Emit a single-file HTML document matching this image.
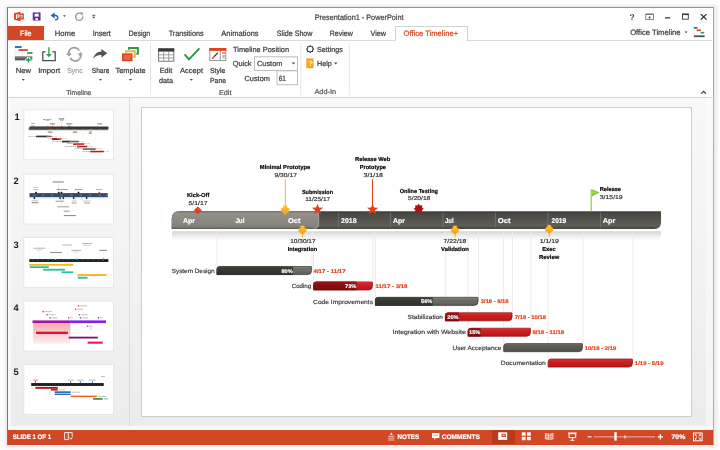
<!DOCTYPE html>
<html>
<head>
<meta charset="utf-8">
<title>PowerPoint - Office Timeline</title>
<style>
html,body{margin:0;padding:0;}
body{width:720px;height:450px;overflow:hidden;background:#fdfdfd;font-family:"Liberation Sans",sans-serif;position:relative;}
.abs{position:absolute;}
#win{position:absolute;left:7px;top:7px;width:705px;height:436px;border:1px solid #e07a5c;border-left-color:#d9532f;border-right-color:#e39580;border-bottom-color:#d24726;background:#fff;box-sizing:content-box;box-shadow:0 0 2.5px 2.5px rgba(0,0,0,0.065);}
.thumb{position:absolute;left:24px;width:89px;height:50px;background:#fff;border:1px solid #e2e2e2;box-sizing:border-box;overflow:hidden;}
svg{will-change:transform;}
svg text{white-space:pre;text-rendering:geometricPrecision;}
</style>
</head>
<body>
<div id="win"></div>
<!-- file tab -->
<div class="abs" style="left:8px;top:26px;width:36px;height:14.5px;background:#d24726;"></div>
<!-- tab strip line -->
<div class="abs" style="left:8px;top:40px;width:704px;height:1px;background:#dadada;"></div>
<!-- active tab -->
<div class="abs" style="left:395px;top:25.5px;width:72.5px;height:15.5px;background:#fff;border:1px solid #d2d2d2;border-bottom:none;box-sizing:border-box;"></div>
<!-- ribbon bottom line -->
<div class="abs" style="left:8px;top:96.7px;width:704px;height:1px;background:#d6d6d6;"></div>
<!-- workspace -->
<div id="work" class="abs" style="left:8px;top:97.7px;width:705px;height:332.3px;background:linear-gradient(to bottom,#f8f8f8 0%,#f3f3f3 45%,#ececec 100%);"></div>
<div class="abs" style="left:8px;top:97.7px;width:3px;height:332.3px;background:rgba(255,255,255,0.55);"></div>
<div class="abs" style="left:706px;top:97.7px;width:6.5px;height:328px;background:rgba(255,255,255,0.45);"></div>
<div class="abs" style="left:129px;top:98px;width:1px;height:332px;background:#dcdcdc;"></div>
<div class="abs" style="left:8px;top:425.5px;width:705px;height:4.5px;background:#f7f8fa;"></div>
<!-- slide -->
<div id="slide" class="abs" style="left:141px;top:107px;width:551px;height:309.5px;background:#fff;border:1px solid #cdcdcd;box-sizing:border-box;"></div>
<!-- status bar -->
<div id="status" class="abs" style="left:8px;top:430px;width:705px;height:13.5px;background:#d24726;"></div>
<div class="abs" style="left:491.5px;top:430px;width:23px;height:13.5px;background:#b83b1e;"></div>
<svg class="abs" style="left:0;top:0;" width="720" height="450" viewBox="0 0 720 450">
<defs><linearGradient id="pk" x1="0" y1="0" x2="0" y2="1"><stop offset="0" stop-color="#f5aaaa"/><stop offset="1" stop-color="#fdeeee"/></linearGradient>
<clipPath id="tc0"><rect x="24.2" y="110.2" width="89" height="49.2"/></clipPath>
<clipPath id="tc1"><rect x="24.2" y="174.5" width="89" height="49.2"/></clipPath>
<clipPath id="tc2"><rect x="24.2" y="237.70000000000002" width="89" height="49.2"/></clipPath>
<clipPath id="tc3"><rect x="24.2" y="301.5" width="89" height="49.2"/></clipPath>
<clipPath id="tc4"><rect x="24.2" y="364.79999999999995" width="89" height="49.2"/></clipPath>
</defs>
<rect x="23.8" y="109.8" width="89.8" height="49.9" fill="#fff" stroke="#e3e3e3" stroke-width="0.8"/>
<rect x="23.8" y="174.1" width="89.8" height="49.9" fill="#fff" stroke="#e3e3e3" stroke-width="0.8"/>
<rect x="23.8" y="237.3" width="89.8" height="49.9" fill="#fff" stroke="#e3e3e3" stroke-width="0.8"/>
<rect x="23.8" y="301.1" width="89.8" height="49.9" fill="#fff" stroke="#e3e3e3" stroke-width="0.8"/>
<rect x="23.8" y="364.4" width="89.8" height="49.9" fill="#fff" stroke="#e3e3e3" stroke-width="0.8"/>
<g clip-path="url(#tc0)"><use href="#sc" transform="translate(0.820,92.362) scale(0.16298)"/><rect x="29.6" y="126.6" width="78.2" height="2.5" fill="#33322e" opacity="0.8"/></g>
<g clip-path="url(#tc1)">
<rect x="29.50" y="193.10" width="78.30" height="4.10" fill="#36496b"/>
<rect x="29.50" y="197.40" width="78.30" height="1.20" fill="#c9d5e6" opacity="0.55"/>
<rect x="33.00" y="194.80" width="2.40" height="0.70" fill="#dfe6f0" opacity="0.5"/>
<rect x="42.00" y="194.80" width="2.40" height="0.70" fill="#dfe6f0" opacity="0.5"/>
<rect x="51.00" y="194.80" width="2.40" height="0.70" fill="#dfe6f0" opacity="0.5"/>
<rect x="60.30" y="194.80" width="2.40" height="0.70" fill="#dfe6f0" opacity="0.5"/>
<rect x="70.00" y="194.80" width="2.40" height="0.70" fill="#dfe6f0" opacity="0.5"/>
<rect x="79.50" y="194.80" width="2.40" height="0.70" fill="#dfe6f0" opacity="0.5"/>
<rect x="89.00" y="194.80" width="2.40" height="0.70" fill="#dfe6f0" opacity="0.5"/>
<rect x="98.50" y="194.80" width="2.40" height="0.70" fill="#dfe6f0" opacity="0.5"/>
<rect x="105.50" y="194.80" width="2.40" height="0.70" fill="#dfe6f0" opacity="0.5"/>
<path d="M36,191.5 L37.1,192.6 L36,193.7 L34.9,192.6 Z" fill="#111"/>
<path d="M58.8,191.5 L59.9,192.6 L58.8,193.7 L57.699999999999996,192.6 Z" fill="#111"/>
<path d="M61.5,191.5 L62.6,192.6 L61.5,193.7 L60.4,192.6 Z" fill="#111"/>
<path d="M78.5,191.5 L79.6,192.6 L78.5,193.7 L77.4,192.6 Z" fill="#111"/>
<path d="M99.3,191.5 L100.39999999999999,192.6 L99.3,193.7 L98.2,192.6 Z" fill="#e23c1a"/>
<path d="M34.3,197.0 L35.4,198.1 L34.3,199.2 L33.199999999999996,198.1 Z" fill="#111"/>
<path d="M60.1,197.0 L61.2,198.1 L60.1,199.2 L59.0,198.1 Z" fill="#111"/>
<path d="M63.3,197.0 L64.39999999999999,198.1 L63.3,199.2 L62.199999999999996,198.1 Z" fill="#111"/>
<path d="M73.7,197.0 L74.8,198.1 L73.7,199.2 L72.60000000000001,198.1 Z" fill="#111"/>
<path d="M86.7,197.0 L87.8,198.1 L86.7,199.2 L85.60000000000001,198.1 Z" fill="#111"/>
<rect x="52.60" y="181.50" width="11.20" height="1.00" fill="#222" opacity="0.6000000000000001"/>
<rect x="58.30" y="184.00" width="0.50" height="6.50" fill="#999" opacity="0.5"/>
<rect x="33.00" y="186.90" width="5.40" height="1.00" fill="#666" opacity="0.36000000000000004"/>
<rect x="33.00" y="189.10" width="5.40" height="1.00" fill="#555" opacity="0.4"/>
<rect x="56.50" y="189.00" width="11.10" height="1.00" fill="#333" opacity="0.48"/>
<rect x="74.70" y="189.00" width="7.90" height="1.00" fill="#333" opacity="0.48"/>
<rect x="96.20" y="189.00" width="6.10" height="1.00" fill="#d44" opacity="0.5599999999999999"/>
<rect x="31.60" y="200.20" width="6.80" height="1.00" fill="#666" opacity="0.36000000000000004"/>
<rect x="31.60" y="202.20" width="6.80" height="1.00" fill="#222" opacity="0.5599999999999999"/>
<rect x="55.60" y="200.70" width="8.60" height="1.00" fill="#333" opacity="0.48"/>
<rect x="71.70" y="200.50" width="4.80" height="1.00" fill="#666" opacity="0.36000000000000004"/>
<rect x="71.70" y="202.50" width="4.80" height="1.00" fill="#333" opacity="0.48"/>
<rect x="82.90" y="200.50" width="7.80" height="1.00" fill="#666" opacity="0.36000000000000004"/>
<rect x="84.00" y="202.50" width="6.00" height="1.00" fill="#333" opacity="0.48"/>
<rect x="61.50" y="199.00" width="0.50" height="6.50" fill="#aaa" opacity="0.5"/>
<rect x="57.40" y="206.30" width="11.60" height="1.00" fill="#333" opacity="0.48"/>
<rect x="63.80" y="210.70" width="5.90" height="1.00" fill="#333" opacity="0.48"/>
<rect x="63.80" y="215.10" width="12.00" height="1.00" fill="#222" opacity="0.5599999999999999"/>
</g>
<g clip-path="url(#tc2)">
<rect x="39.00" y="247.00" width="0.50" height="12.00" fill="#ccc" opacity="0.3"/>
<rect x="67.50" y="247.00" width="0.50" height="12.00" fill="#ccc" opacity="0.3"/>
<rect x="76.50" y="247.00" width="0.50" height="12.00" fill="#ccc" opacity="0.3"/>
<rect x="86.50" y="247.00" width="0.50" height="12.00" fill="#ccc" opacity="0.3"/>
<rect x="103.30" y="247.00" width="0.50" height="12.00" fill="#ccc" opacity="0.3"/>
<rect x="29.30" y="259.10" width="79.10" height="2.90" fill="#16242b"/>
<rect x="32.00" y="260.20" width="2.00" height="0.70" fill="#8aa" opacity="0.35"/>
<rect x="37.00" y="260.20" width="2.00" height="0.70" fill="#8aa" opacity="0.35"/>
<rect x="42.00" y="260.20" width="2.00" height="0.70" fill="#8aa" opacity="0.35"/>
<rect x="47.00" y="260.20" width="2.00" height="0.70" fill="#8aa" opacity="0.35"/>
<rect x="52.00" y="260.20" width="2.00" height="0.70" fill="#8aa" opacity="0.35"/>
<rect x="57.00" y="260.20" width="2.00" height="0.70" fill="#8aa" opacity="0.35"/>
<rect x="62.00" y="260.20" width="2.00" height="0.70" fill="#8aa" opacity="0.35"/>
<rect x="67.00" y="260.20" width="2.00" height="0.70" fill="#8aa" opacity="0.35"/>
<rect x="72.00" y="260.20" width="2.00" height="0.70" fill="#8aa" opacity="0.35"/>
<rect x="77.00" y="260.20" width="2.00" height="0.70" fill="#8aa" opacity="0.35"/>
<rect x="82.00" y="260.20" width="2.00" height="0.70" fill="#8aa" opacity="0.35"/>
<rect x="87.00" y="260.20" width="2.00" height="0.70" fill="#8aa" opacity="0.35"/>
<rect x="92.00" y="260.20" width="2.00" height="0.70" fill="#8aa" opacity="0.35"/>
<rect x="97.00" y="260.20" width="2.00" height="0.70" fill="#8aa" opacity="0.35"/>
<rect x="102.00" y="260.20" width="2.00" height="0.70" fill="#8aa" opacity="0.35"/>
<rect x="55.00" y="258.60" width="1.20" height="1.20" fill="#f2d21c"/>
<rect x="75.90" y="258.60" width="1.20" height="1.20" fill="#35b6e8"/>
<rect x="102.70" y="258.40" width="1.20" height="1.40" fill="#e23c1a"/>
<rect x="29.30" y="263.90" width="44.00" height="1.80" fill="#fbb415"/>
<rect x="29.80" y="266.30" width="19.00" height="1.70" fill="#14c4a5"/>
<rect x="43.10" y="268.80" width="21.80" height="1.80" fill="#14c4a5"/>
<rect x="61.50" y="271.40" width="11.80" height="1.70" fill="#14c4a5"/>
<rect x="77.40" y="274.10" width="29.00" height="1.90" fill="#fbb415"/>
<rect x="77.80" y="276.80" width="9.80" height="1.80" fill="#14c4a5"/>
<rect x="33.20" y="247.70" width="12.00" height="1.00" fill="#444" opacity="0.4"/>
<rect x="36.00" y="249.50" width="6.00" height="1.00" fill="#666" opacity="0.27999999999999997"/>
<rect x="50.20" y="252.00" width="11.70" height="1.00" fill="#222" opacity="0.52"/>
<rect x="62.40" y="244.50" width="9.70" height="1.00" fill="#444" opacity="0.4"/>
<rect x="71.40" y="249.90" width="9.80" height="1.00" fill="#444" opacity="0.4"/>
<rect x="73.00" y="251.50" width="6.00" height="1.00" fill="#777" opacity="0.24"/>
<rect x="81.90" y="243.10" width="10.20" height="1.00" fill="#444" opacity="0.4"/>
<rect x="83.50" y="244.90" width="7.00" height="1.00" fill="#666" opacity="0.27999999999999997"/>
<rect x="99.30" y="249.90" width="7.70" height="1.00" fill="#222" opacity="0.52"/>
</g>
<g clip-path="url(#tc3)">
<rect x="33.20" y="323.10" width="36.90" height="20.60" fill="url(#pk)"/>
<rect x="32.50" y="320.40" width="37.60" height="2.70" fill="#a414a4"/>
<rect x="70.10" y="320.40" width="35.90" height="2.70" fill="#8a22e6"/>
<rect x="36.00" y="331.70" width="31.90" height="2.30" fill="#e00d3c"/>
<rect x="68.70" y="336.70" width="29.10" height="1.80" fill="#84106a"/>
<rect x="87.60" y="341.60" width="15.10" height="2.10" fill="#ee1466"/>
<rect x="42.40" y="310.90" width="1.40" height="1.40" fill="#f0305a"/>
<rect x="44.70" y="311.10" width="7.00" height="1.00" fill="#555" opacity="0.36000000000000004"/>
<rect x="46.50" y="314.00" width="1.40" height="1.40" fill="#f0305a"/>
<rect x="48.80" y="314.20" width="7.00" height="1.00" fill="#555" opacity="0.36000000000000004"/>
<rect x="49.20" y="317.10" width="1.40" height="1.40" fill="#f0305a"/>
<rect x="51.50" y="317.30" width="6.00" height="1.00" fill="#555" opacity="0.36000000000000004"/>
<rect x="68.00" y="317.10" width="1.40" height="1.40" fill="#e23a9a"/>
<rect x="70.30" y="317.30" width="2.50" height="1.00" fill="#555" opacity="0.36000000000000004"/>
<rect x="77.80" y="305.10" width="1.40" height="1.40" fill="#f0305a"/>
<rect x="80.10" y="305.30" width="7.00" height="1.00" fill="#555" opacity="0.36000000000000004"/>
<rect x="74.80" y="308.50" width="1.40" height="1.40" fill="#f0305a"/>
<rect x="77.10" y="308.70" width="6.00" height="1.00" fill="#555" opacity="0.36000000000000004"/>
<rect x="78.80" y="314.00" width="1.40" height="1.40" fill="#f0305a"/>
<rect x="81.10" y="314.20" width="6.50" height="1.00" fill="#555" opacity="0.36000000000000004"/>
<rect x="79.80" y="317.10" width="1.40" height="1.40" fill="#9a2ae0"/>
<rect x="82.10" y="317.30" width="6.00" height="1.00" fill="#555" opacity="0.36000000000000004"/>
<rect x="97.80" y="317.10" width="1.40" height="1.40" fill="#9a2ae0"/>
<rect x="100.10" y="317.30" width="2.50" height="1.00" fill="#555" opacity="0.36000000000000004"/>
<rect x="86.90" y="325.60" width="1.40" height="1.40" fill="#f0305a"/>
<rect x="89.20" y="325.80" width="3.50" height="1.00" fill="#555" opacity="0.36000000000000004"/>
<rect x="89.50" y="327.50" width="2.50" height="1.00" fill="#777" opacity="0.24"/>
<rect x="89.50" y="329.10" width="2.50" height="1.00" fill="#777" opacity="0.24"/>
<rect x="70.00" y="323.10" width="0.50" height="13.60" fill="#bbb" opacity="0.5"/>
</g>
<g clip-path="url(#tc4)">
<rect x="31.20" y="383.10" width="72.50" height="2.80" fill="#121212"/>
<rect x="34.00" y="384.10" width="1.40" height="0.70" fill="#666" opacity="0.6"/>
<rect x="37.00" y="384.10" width="1.40" height="0.70" fill="#666" opacity="0.6"/>
<rect x="40.00" y="384.10" width="1.40" height="0.70" fill="#666" opacity="0.6"/>
<rect x="43.00" y="384.10" width="1.40" height="0.70" fill="#666" opacity="0.6"/>
<rect x="46.00" y="384.10" width="1.40" height="0.70" fill="#666" opacity="0.6"/>
<rect x="49.00" y="384.10" width="1.40" height="0.70" fill="#666" opacity="0.6"/>
<rect x="52.00" y="384.10" width="1.40" height="0.70" fill="#666" opacity="0.6"/>
<rect x="55.00" y="384.10" width="1.40" height="0.70" fill="#666" opacity="0.6"/>
<rect x="58.00" y="384.10" width="1.40" height="0.70" fill="#666" opacity="0.6"/>
<rect x="61.00" y="384.10" width="1.40" height="0.70" fill="#666" opacity="0.6"/>
<rect x="64.00" y="384.10" width="1.40" height="0.70" fill="#666" opacity="0.6"/>
<rect x="67.00" y="384.10" width="1.40" height="0.70" fill="#666" opacity="0.6"/>
<rect x="70.00" y="384.10" width="1.40" height="0.70" fill="#666" opacity="0.6"/>
<rect x="73.00" y="384.10" width="1.40" height="0.70" fill="#666" opacity="0.6"/>
<rect x="76.00" y="384.10" width="1.40" height="0.70" fill="#666" opacity="0.6"/>
<rect x="79.00" y="384.10" width="1.40" height="0.70" fill="#666" opacity="0.6"/>
<rect x="82.00" y="384.10" width="1.40" height="0.70" fill="#666" opacity="0.6"/>
<rect x="85.00" y="384.10" width="1.40" height="0.70" fill="#666" opacity="0.6"/>
<rect x="88.00" y="384.10" width="1.40" height="0.70" fill="#666" opacity="0.6"/>
<rect x="91.00" y="384.10" width="1.40" height="0.70" fill="#666" opacity="0.6"/>
<rect x="94.00" y="384.10" width="1.40" height="0.70" fill="#666" opacity="0.6"/>
<rect x="97.00" y="384.10" width="1.40" height="0.70" fill="#666" opacity="0.6"/>
<rect x="100.00" y="384.10" width="1.40" height="0.70" fill="#666" opacity="0.6"/>
<rect x="34.90" y="381.00" width="1.00" height="2.10" fill="#e23c1a"/>
<rect x="33.00" y="379.60" width="5.00" height="1.00" fill="#e23c1a" opacity="0.6400000000000001"/>
<rect x="70.10" y="381.20" width="1.00" height="1.90" fill="#2f6db0"/>
<rect x="79.80" y="381.20" width="1.00" height="1.90" fill="#2f6db0"/>
<rect x="91.90" y="381.20" width="1.00" height="1.90" fill="#2f6db0"/>
<rect x="67.50" y="379.60" width="6.50" height="1.00" fill="#555" opacity="0.4"/>
<rect x="77.00" y="379.60" width="6.50" height="1.00" fill="#555" opacity="0.4"/>
<rect x="89.00" y="379.60" width="6.50" height="1.00" fill="#555" opacity="0.4"/>
<rect x="101.00" y="376.10" width="4.00" height="1.00" fill="#555" opacity="0.4"/>
<rect x="35.40" y="386.90" width="22.40" height="1.90" fill="#a8161c"/>
<rect x="51.00" y="389.00" width="6.80" height="1.60" fill="#c0262c"/>
<rect x="59.00" y="389.30" width="6.00" height="1.00" fill="#e55" opacity="0.4"/>
<rect x="54.70" y="391.30" width="16.00" height="1.70" fill="#2b6db0"/>
<rect x="72.00" y="391.70" width="8.00" height="1.00" fill="#666" opacity="0.4"/>
<rect x="54.70" y="393.60" width="16.00" height="1.40" fill="#2b6db0"/>
<rect x="70.70" y="395.60" width="26.20" height="1.50" fill="#f4631c"/>
<rect x="98.00" y="395.90" width="8.00" height="1.00" fill="#666" opacity="0.4"/>
<rect x="93.10" y="398.10" width="9.60" height="1.60" fill="#2a8a2a"/>
<rect x="104.00" y="398.40" width="4.00" height="1.00" fill="#444" opacity="0.48"/>
<rect x="31.00" y="387.50" width="3.00" height="1.00" fill="#888" opacity="0.32000000000000006"/>
<rect x="49.00" y="391.70" width="1.50" height="1.00" fill="#888" opacity="0.32000000000000006"/>
<rect x="49.00" y="393.80" width="1.50" height="1.00" fill="#888" opacity="0.32000000000000006"/>
</g>
</svg>
<svg class="abs" style="left:0;top:0;" width="720" height="450" viewBox="0 0 720 450" font-family="Liberation Sans, sans-serif">
<defs>
<linearGradient id="gl" x1="0" y1="0" x2="0" y2="1"><stop offset="0" stop-color="#75736c"/><stop offset="0.12" stop-color="#929088"/><stop offset="0.85" stop-color="#85827a"/><stop offset="1" stop-color="#5e5c56"/></linearGradient>
<linearGradient id="gd" x1="0" y1="0" x2="0" y2="1"><stop offset="0" stop-color="#3f3d38"/><stop offset="0.15" stop-color="#4a4843"/><stop offset="0.8" stop-color="#5f5d56"/><stop offset="1" stop-color="#45433e"/></linearGradient>
<linearGradient id="gr" x1="0" y1="0" x2="0" y2="1"><stop offset="0" stop-color="#d4d4d4"/><stop offset="0.5" stop-color="#efefef"/><stop offset="1" stop-color="#ffffff"/></linearGradient>
<linearGradient id="bk" x1="0" y1="0" x2="0" y2="1"><stop offset="0" stop-color="#4a4944"/><stop offset="0.25" stop-color="#3b3a35"/><stop offset="1" stop-color="#2f2e2a"/></linearGradient>
<linearGradient id="bg" x1="0" y1="0" x2="0" y2="1"><stop offset="0" stop-color="#8a8881"/><stop offset="0.25" stop-color="#716f68"/><stop offset="1" stop-color="#605e58"/></linearGradient>
<linearGradient id="bg2" x1="0" y1="0" x2="0" y2="1"><stop offset="0" stop-color="#75736c"/><stop offset="0.25" stop-color="#5f5d57"/><stop offset="1" stop-color="#52504b"/></linearGradient>
<linearGradient id="bdr" x1="0" y1="0" x2="0" y2="1"><stop offset="0" stop-color="#9c1518"/><stop offset="0.3" stop-color="#8a0f12"/><stop offset="1" stop-color="#7a0c0e"/></linearGradient>
<linearGradient id="br" x1="0" y1="0" x2="0" y2="1"><stop offset="0" stop-color="#e03a36"/><stop offset="0.3" stop-color="#cf1f22"/><stop offset="1" stop-color="#b81418"/></linearGradient>
<linearGradient id="gy" x1="0" y1="0" x2="0" y2="1"><stop offset="0" stop-color="#fdc52f"/><stop offset="1" stop-color="#f6991c"/></linearGradient>
</defs>
<g id="sc">
<path d="M172.5,231.3 L660.5,231.3 Q661,231.3 661,231.8 L661,235 Q661,241 655,241 L172.5,241 Q172,241 172,240.5 L172,231.8 Q172,231.3 172.5,231.3 Z" fill="url(#gr)"/>
<rect x="216.5" y="231.5" width="1" height="34.7" fill="#eeebe6"/>
<rect x="311.5" y="231.5" width="1" height="34.7" fill="#eeebe6"/>
<rect x="313.0" y="231.5" width="1" height="50.1" fill="#eeebe6"/>
<rect x="372.5" y="231.5" width="1" height="50.1" fill="#eeebe6"/>
<rect x="374.8" y="231.5" width="1" height="65.5" fill="#eeebe6"/>
<rect x="478.0" y="231.5" width="1" height="65.5" fill="#eeebe6"/>
<rect x="444.8" y="231.5" width="1" height="80.9" fill="#eeebe6"/>
<rect x="512.0" y="231.5" width="1" height="80.9" fill="#eeebe6"/>
<rect x="467.5" y="231.5" width="1" height="96.4" fill="#eeebe6"/>
<rect x="530.5" y="231.5" width="1" height="96.4" fill="#eeebe6"/>
<rect x="503.1" y="231.5" width="1" height="111.8" fill="#eeebe6"/>
<rect x="582.5" y="231.5" width="1" height="111.8" fill="#eeebe6"/>
<rect x="547.5" y="231.5" width="1" height="127.2" fill="#eeebe6"/>
<rect x="632.5" y="231.5" width="1" height="127.2" fill="#eeebe6"/>
<path d="M179.2,211.2 L660.5,211.2 Q661,211.2 661,211.7 L661,222.5 Q661,229 654.5,229 L172.2,229 Q171.7,229 171.7,228.5 L171.7,218.7 Q171.7,211.2 179.2,211.2 Z" fill="url(#gd)"/>
<path d="M179.2,211.2 L318.1,211.2 Q318.6,211.2 318.6,211.7 L318.6,224.5 Q318.6,229 314.1,229 L172.2,229 Q171.7,229 171.7,228.5 L171.7,218.7 Q171.7,211.2 179.2,211.2 Z" fill="url(#gl)"/>
<path d="M318.6,212.7 L318.6,224 Q318.6,228.2 313.5,228.2" fill="none" stroke="#b0ada5" stroke-width="0.8"/>
<rect x="232.5" y="212.7" width="1" height="14.8" fill="#9e9b93" opacity="0.16"/>
<rect x="285.2" y="212.7" width="1" height="14.8" fill="#9e9b93" opacity="0.16"/>
<rect x="338.0" y="212.7" width="1" height="14.8" fill="#77756e" opacity="0.75"/>
<rect x="390.0" y="212.7" width="1" height="14.8" fill="#77756e" opacity="0.75"/>
<rect x="442.5" y="212.7" width="1" height="14.8" fill="#77756e" opacity="0.75"/>
<rect x="495.0" y="212.7" width="1" height="14.8" fill="#77756e" opacity="0.75"/>
<rect x="547.5" y="212.7" width="1" height="14.8" fill="#77756e" opacity="0.75"/>
<rect x="600.0" y="212.7" width="1" height="14.8" fill="#77756e" opacity="0.75"/>
<text x="182.90" y="223.10" font-size="7" fill="#fff" stroke="#fff" stroke-width="0.18" font-weight="bold" textLength="12.00" lengthAdjust="spacingAndGlyphs">Apr</text>
<text x="235.40" y="223.10" font-size="7" fill="#fff" stroke="#fff" stroke-width="0.18" font-weight="bold" textLength="9.00" lengthAdjust="spacingAndGlyphs">Jul</text>
<text x="288.00" y="223.10" font-size="7" fill="#fff" stroke="#fff" stroke-width="0.18" font-weight="bold" textLength="12.50" lengthAdjust="spacingAndGlyphs">Oct</text>
<text x="341.10" y="223.10" font-size="7" fill="#fff" stroke="#fff" stroke-width="0.18" font-weight="bold" textLength="15.40" lengthAdjust="spacingAndGlyphs">2018</text>
<text x="393.10" y="223.10" font-size="7" fill="#fff" stroke="#fff" stroke-width="0.18" font-weight="bold" textLength="11.90" lengthAdjust="spacingAndGlyphs">Apr</text>
<text x="445.10" y="223.10" font-size="7" fill="#fff" stroke="#fff" stroke-width="0.18" font-weight="bold" textLength="8.50" lengthAdjust="spacingAndGlyphs">Jul</text>
<text x="497.80" y="223.10" font-size="7" fill="#fff" stroke="#fff" stroke-width="0.18" font-weight="bold" textLength="12.90" lengthAdjust="spacingAndGlyphs">Oct</text>
<text x="551.50" y="223.10" font-size="7" fill="#fff" stroke="#fff" stroke-width="0.18" font-weight="bold" textLength="14.70" lengthAdjust="spacingAndGlyphs">2019</text>
<text x="602.80" y="223.10" font-size="7" fill="#fff" stroke="#fff" stroke-width="0.18" font-weight="bold" textLength="12.70" lengthAdjust="spacingAndGlyphs">Apr</text>
<text x="186.90" y="197.10" font-size="5.8" fill="#000" stroke="#000" stroke-width="0.18" font-weight="bold" textLength="22.50" lengthAdjust="spacingAndGlyphs">Kick-Off</text>
<text x="188.55" y="204.60" font-size="5.6" fill="#333" stroke="#333" stroke-width="0.18" textLength="18.95" lengthAdjust="spacingAndGlyphs">5/1/17</text>
<text x="259.80" y="169.10" font-size="5.8" fill="#000" stroke="#000" stroke-width="0.18" font-weight="bold" textLength="50.40" lengthAdjust="spacingAndGlyphs">Minimal Prototype</text>
<text x="274.50" y="176.70" font-size="5.6" fill="#333" stroke="#333" stroke-width="0.18" textLength="22.40" lengthAdjust="spacingAndGlyphs">9/30/17</text>
<text x="301.90" y="193.60" font-size="5.8" fill="#000" stroke="#000" stroke-width="0.18" font-weight="bold" textLength="31.20" lengthAdjust="spacingAndGlyphs">Submission</text>
<text x="305.20" y="201.00" font-size="5.6" fill="#333" stroke="#333" stroke-width="0.18" textLength="25.00" lengthAdjust="spacingAndGlyphs">11/25/17</text>
<text x="355.10" y="161.40" font-size="5.8" fill="#000" stroke="#000" stroke-width="0.18" font-weight="bold" textLength="35.20" lengthAdjust="spacingAndGlyphs">Release Web</text>
<text x="359.70" y="168.70" font-size="5.8" fill="#000" stroke="#000" stroke-width="0.18" font-weight="bold" textLength="26.30" lengthAdjust="spacingAndGlyphs">Prototype</text>
<text x="363.50" y="176.70" font-size="5.6" fill="#333" stroke="#333" stroke-width="0.18" textLength="19.50" lengthAdjust="spacingAndGlyphs">3/1/18</text>
<text x="399.80" y="193.10" font-size="5.8" fill="#000" stroke="#000" stroke-width="0.18" font-weight="bold" textLength="38.20" lengthAdjust="spacingAndGlyphs">Online Testing</text>
<text x="408.10" y="200.40" font-size="5.6" fill="#333" stroke="#333" stroke-width="0.18" textLength="22.20" lengthAdjust="spacingAndGlyphs">5/20/18</text>
<text x="599.80" y="191.25" font-size="5.8" fill="#000" stroke="#000" stroke-width="0.18" font-weight="bold" textLength="21.20" lengthAdjust="spacingAndGlyphs">Release</text>
<text x="599.80" y="198.75" font-size="5.6" fill="#333" stroke="#333" stroke-width="0.18" textLength="22.90" lengthAdjust="spacingAndGlyphs">3/15/19</text>
<text x="290.20" y="242.90" font-size="5.6" fill="#333" stroke="#333" stroke-width="0.18" textLength="25.40" lengthAdjust="spacingAndGlyphs">10/30/17</text>
<text x="287.70" y="250.70" font-size="5.8" fill="#000" stroke="#000" stroke-width="0.18" font-weight="bold" textLength="29.60" lengthAdjust="spacingAndGlyphs">Integration</text>
<text x="443.55" y="243.00" font-size="5.6" fill="#333" stroke="#333" stroke-width="0.18" textLength="22.90" lengthAdjust="spacingAndGlyphs">7/22/18</text>
<text x="441.05" y="250.70" font-size="5.8" fill="#000" stroke="#000" stroke-width="0.18" font-weight="bold" textLength="27.90" lengthAdjust="spacingAndGlyphs">Validation</text>
<text x="539.80" y="243.00" font-size="5.6" fill="#333" stroke="#333" stroke-width="0.18" textLength="19.15" lengthAdjust="spacingAndGlyphs">1/1/19</text>
<text x="542.30" y="250.70" font-size="5.8" fill="#000" stroke="#000" stroke-width="0.18" font-weight="bold" textLength="13.30" lengthAdjust="spacingAndGlyphs">Exec</text>
<text x="539.00" y="258.50" font-size="5.8" fill="#000" stroke="#000" stroke-width="0.18" font-weight="bold" textLength="20.40" lengthAdjust="spacingAndGlyphs">Review</text>
<rect x="284.8" y="179" width="1" height="28" fill="#fbb03b"/>
<rect x="372" y="179.3" width="1" height="26" fill="#e8401c"/>
<rect x="590.5" y="189.2" width="1.5" height="22.0" fill="#a4d95a"/>
<rect x="302" y="233" width="1" height="4.5" fill="#fbb03b"/>
<rect x="454.6" y="233" width="1" height="4.5" fill="#fbb03b"/>
<rect x="548.7" y="233" width="1" height="4" fill="#fbb03b"/>
<path d="M197.8,206.4 L201.70000000000002,210.3 L197.8,214.20000000000002 L193.9,210.3 Z" fill="#e23c1a"/>
<path d="M197.8,206.4 L201.70000000000002,210.3 L197.8,210.3 Z" fill="#f0522c"/>
<path d="M283.59999999999997,205.8 L286.8,205.8 L287.1,207.8 L289.2,208.60000000000002 L289.2,211.60000000000002 L286.8,212.8 L285.2,215.0 L283.59999999999997,212.8 L281.2,211.60000000000002 L281.2,208.60000000000002 L283.29999999999995,207.8 Z" fill="url(#gy)" stroke="#fbb81f" stroke-width="0.5" stroke-linejoin="round"/>
<polygon points="317.50,203.70 318.97,207.58 323.11,207.78 319.88,210.37 320.97,214.37 317.50,212.10 314.03,214.37 315.12,210.37 311.89,207.78 316.03,207.58" fill="#e63c17"/>
<polygon points="372.60,203.70 374.07,207.58 378.21,207.78 374.98,210.37 376.07,214.37 372.60,212.10 369.13,214.37 370.22,210.37 366.99,207.78 371.13,207.58" fill="#e63c17"/>
<polygon points="418.70,203.80 420.08,205.47 422.24,205.26 422.03,207.42 423.70,208.80 422.03,210.18 422.24,212.34 420.08,212.13 418.70,213.80 417.32,212.13 415.16,212.34 415.37,210.18 413.70,208.80 415.37,207.42 415.16,205.26 417.32,205.47" fill="#b01212"/>
<path d="M300.9,225.9 L304.1,225.9 L304.40000000000003,227.9 L306.2,228.70000000000002 L306.2,231.70000000000002 L304.1,232.9 L302.5,234.9 L300.9,232.9 L298.8,231.70000000000002 L298.8,228.70000000000002 L300.59999999999997,227.9 Z" fill="url(#gy)" stroke="#fbb81f" stroke-width="0.5" stroke-linejoin="round"/>
<path d="M453.4,225.9 L456.6,225.9 L456.90000000000003,227.9 L458.7,228.70000000000002 L458.7,231.70000000000002 L456.6,232.9 L455,234.9 L453.4,232.9 L451.3,231.70000000000002 L451.3,228.70000000000002 L453.09999999999997,227.9 Z" fill="url(#gy)" stroke="#fbb81f" stroke-width="0.5" stroke-linejoin="round"/>
<path d="M547.6,225.3 L550.8000000000001,225.3 L551.1,227.3 L552.9000000000001,228.10000000000002 L552.9000000000001,231.10000000000002 L550.8000000000001,232.3 L549.2,234.3 L547.6,232.3 L545.5,231.10000000000002 L545.5,228.10000000000002 L547.3000000000001,227.3 Z" fill="url(#gy)" stroke="#fbb81f" stroke-width="0.5" stroke-linejoin="round"/>
<path d="M592,189.2 L599.6,192.5 L592,196.3 Z" fill="#7ac231"/>
<path d="M592,190 L597,192.4 L592,194.6 Z" fill="#9bd84a"/>
<path d="M219.9,266.5 L311.09999999999997,266.5 Q311.59999999999997,266.5 311.59999999999997,267.0 L311.59999999999997,270.59999999999997 Q311.59999999999997,274.59999999999997 307.59999999999997,274.59999999999997 L217.4,274.59999999999997 Q216.9,274.59999999999997 216.9,274.09999999999997 L216.9,269.5 Q216.9,266.5 219.9,266.5 Z" fill="url(#bg)" stroke="#34332f" stroke-width="0.7"/>
<path d="M219.6,266.2 L292.6,266.2 Q293.1,266.2 293.1,266.7 L293.1,274.59999999999997 Q293.1,274.9 292.8,274.9 L217.1,274.9 Q216.6,274.9 216.6,274.4 L216.6,269.2 Q216.6,266.2 219.6,266.2 Z" fill="url(#bk)"/>
<text x="171.70" y="272.70" font-size="6.1" fill="#3c3c3c" stroke="#3c3c3c" stroke-width="0.18" textLength="42.90" lengthAdjust="spacingAndGlyphs">System Design</text>
<text x="281.40" y="272.50" font-size="5.4" fill="#fff" stroke="#fff" stroke-width="0.18" font-weight="bold" textLength="11.30" lengthAdjust="spacingAndGlyphs">80%</text>
<text x="313.55" y="272.50" font-size="5.4" fill="#e8401c" stroke="#e8401c" stroke-width="0.18" font-weight="bold" textLength="32.05" lengthAdjust="spacingAndGlyphs">4/17 - 11/17</text>
<path d="M316.5,281.90000000000003 L372.0,281.90000000000003 Q372.5,281.90000000000003 372.5,282.40000000000003 L372.5,286.0 Q372.5,290.0 368.5,290.0 L314.0,290.0 Q313.5,290.0 313.5,289.5 L313.5,284.90000000000003 Q313.5,281.90000000000003 316.5,281.90000000000003 Z" fill="url(#br)" stroke="#8e1013" stroke-width="0.7"/>
<path d="M316.2,281.6 L356.2,281.6 Q356.7,281.6 356.7,282.1 L356.7,290.0 Q356.7,290.3 356.4,290.3 L313.7,290.3 Q313.2,290.3 313.2,289.8 L313.2,284.6 Q313.2,281.6 316.2,281.6 Z" fill="url(#bdr)"/>
<text x="291.70" y="288.10" font-size="6.1" fill="#3c3c3c" stroke="#3c3c3c" stroke-width="0.18" textLength="19.50" lengthAdjust="spacingAndGlyphs">Coding</text>
<text x="345.00" y="287.90" font-size="5.4" fill="#fff" stroke="#fff" stroke-width="0.18" font-weight="bold" textLength="11.30" lengthAdjust="spacingAndGlyphs">73%</text>
<text x="375.50" y="287.90" font-size="5.4" fill="#e8401c" stroke="#e8401c" stroke-width="0.18" font-weight="bold" textLength="31.90" lengthAdjust="spacingAndGlyphs">11/17 - 3/18</text>
<path d="M378.3,297.3 L477.59999999999997,297.3 Q478.09999999999997,297.3 478.09999999999997,297.8 L478.09999999999997,301.4 Q478.09999999999997,305.4 474.09999999999997,305.4 L375.8,305.4 Q375.3,305.4 375.3,304.9 L375.3,300.3 Q375.3,297.3 378.3,297.3 Z" fill="url(#bg)" stroke="#34332f" stroke-width="0.7"/>
<path d="M378,297.0 L432.2,297.0 Q432.7,297.0 432.7,297.5 L432.7,305.4 Q432.7,305.7 432.4,305.7 L375.5,305.7 Q375,305.7 375,305.2 L375,300.0 Q375,297.0 378,297.0 Z" fill="url(#bk)"/>
<text x="313.10" y="303.50" font-size="6.1" fill="#3c3c3c" stroke="#3c3c3c" stroke-width="0.18" textLength="59.90" lengthAdjust="spacingAndGlyphs">Code Improvements</text>
<text x="421.00" y="303.30" font-size="5.4" fill="#fff" stroke="#fff" stroke-width="0.18" font-weight="bold" textLength="11.30" lengthAdjust="spacingAndGlyphs">56%</text>
<text x="480.80" y="303.30" font-size="5.4" fill="#e8401c" stroke="#e8401c" stroke-width="0.18" font-weight="bold" textLength="27.70" lengthAdjust="spacingAndGlyphs">3/18 - 8/18</text>
<path d="M448.3,312.75 L511.6,312.75 Q512.1,312.75 512.1,313.25 L512.1,316.84999999999997 Q512.1,320.84999999999997 508.1,320.84999999999997 L445.8,320.84999999999997 Q445.3,320.84999999999997 445.3,320.34999999999997 L445.3,315.75 Q445.3,312.75 448.3,312.75 Z" fill="url(#br)" stroke="#8e1013" stroke-width="0.7"/>
<path d="M448,312.45 L458.5,312.45 Q459,312.45 459,312.95 L459,320.84999999999997 Q459,321.15 458.7,321.15 L445.5,321.15 Q445,321.15 445,320.65 L445,315.45 Q445,312.45 448,312.45 Z" fill="url(#bdr)"/>
<text x="407.50" y="318.95" font-size="6.1" fill="#3c3c3c" stroke="#3c3c3c" stroke-width="0.18" textLength="35.50" lengthAdjust="spacingAndGlyphs">Stabilization</text>
<text x="447.30" y="318.75" font-size="5.4" fill="#fff" stroke="#fff" stroke-width="0.18" font-weight="bold" textLength="11.30" lengthAdjust="spacingAndGlyphs">20%</text>
<text x="514.80" y="318.75" font-size="5.4" fill="#e8401c" stroke="#e8401c" stroke-width="0.18" font-weight="bold" textLength="31.10" lengthAdjust="spacingAndGlyphs">7/18 - 10/18</text>
<path d="M471.0,328.2 L530.0,328.2 Q530.5,328.2 530.5,328.7 L530.5,332.29999999999995 Q530.5,336.29999999999995 526.5,336.29999999999995 L468.5,336.29999999999995 Q468.0,336.29999999999995 468.0,335.79999999999995 L468.0,331.2 Q468.0,328.2 471.0,328.2 Z" fill="url(#br)" stroke="#8e1013" stroke-width="0.7"/>
<path d="M470.7,327.9 L480.2,327.9 Q480.7,327.9 480.7,328.4 L480.7,336.29999999999995 Q480.7,336.59999999999997 480.4,336.59999999999997 L468.2,336.59999999999997 Q467.7,336.59999999999997 467.7,336.09999999999997 L467.7,330.9 Q467.7,327.9 470.7,327.9 Z" fill="url(#bdr)"/>
<text x="392.50" y="334.40" font-size="6.1" fill="#3c3c3c" stroke="#3c3c3c" stroke-width="0.18" textLength="73.20" lengthAdjust="spacingAndGlyphs">Integration with Website</text>
<text x="469.00" y="334.20" font-size="5.4" fill="#fff" stroke="#fff" stroke-width="0.18" font-weight="bold" textLength="11.30" lengthAdjust="spacingAndGlyphs">15%</text>
<text x="532.50" y="334.20" font-size="5.4" fill="#e8401c" stroke="#e8401c" stroke-width="0.18" font-weight="bold" textLength="31.70" lengthAdjust="spacingAndGlyphs">8/18 - 11/18</text>
<path d="M506.6,343.6 L582.0,343.6 Q582.5,343.6 582.5,344.1 L582.5,347.7 Q582.5,351.7 578.5,351.7 L504.1,351.7 Q503.6,351.7 503.6,351.2 L503.6,346.6 Q503.6,343.6 506.6,343.6 Z" fill="url(#bg2)" stroke="#3a3935" stroke-width="0.7"/>
<text x="452.50" y="349.80" font-size="6.1" fill="#3c3c3c" stroke="#3c3c3c" stroke-width="0.18" textLength="48.80" lengthAdjust="spacingAndGlyphs">User Acceptance</text>
<text x="584.80" y="349.60" font-size="5.4" fill="#e8401c" stroke="#e8401c" stroke-width="0.18" font-weight="bold" textLength="31.40" lengthAdjust="spacingAndGlyphs">10/18 - 2/19</text>
<path d="M551.0999999999999,359.0 L632.0,359.0 Q632.5,359.0 632.5,359.5 L632.5,363.09999999999997 Q632.5,367.09999999999997 628.5,367.09999999999997 L548.5999999999999,367.09999999999997 Q548.0999999999999,367.09999999999997 548.0999999999999,366.59999999999997 L548.0999999999999,362.0 Q548.0999999999999,359.0 551.0999999999999,359.0 Z" fill="url(#br)" stroke="#8e1013" stroke-width="0.7"/>
<text x="500.80" y="365.20" font-size="6.1" fill="#3c3c3c" stroke="#3c3c3c" stroke-width="0.18" textLength="45.00" lengthAdjust="spacingAndGlyphs">Documentation</text>
<text x="634.80" y="365.00" font-size="5.4" fill="#e8401c" stroke="#e8401c" stroke-width="0.18" font-weight="bold" textLength="28.70" lengthAdjust="spacingAndGlyphs">1/19 - 5/19</text>
</g>
</svg>
<svg class="abs" style="left:0;top:0;" width="720" height="450" viewBox="0 0 720 450" font-family="Liberation Sans, sans-serif">
<text x="314.75" y="20.00" font-size="7.9" fill="#444" stroke="#444" stroke-width="0.22" textLength="88.80" lengthAdjust="spacingAndGlyphs">Presentation1 - PowerPoint</text>
<text x="20.05" y="35.70" font-size="7.8" fill="#fff" stroke="#fff" stroke-width="0.22" textLength="11.50" lengthAdjust="spacingAndGlyphs">File</text>
<text x="54.75" y="35.70" font-size="7.8" fill="#3a3a3a" stroke="#3a3a3a" stroke-width="0.22" textLength="20.50" lengthAdjust="spacingAndGlyphs">Home</text>
<text x="92.75" y="35.70" font-size="7.8" fill="#3a3a3a" stroke="#3a3a3a" stroke-width="0.22" textLength="18.00" lengthAdjust="spacingAndGlyphs">Insert</text>
<text x="128.55" y="35.70" font-size="7.8" fill="#3a3a3a" stroke="#3a3a3a" stroke-width="0.22" textLength="21.70" lengthAdjust="spacingAndGlyphs">Design</text>
<text x="168.65" y="35.70" font-size="7.8" fill="#3a3a3a" stroke="#3a3a3a" stroke-width="0.22" textLength="34.90" lengthAdjust="spacingAndGlyphs">Transitions</text>
<text x="221.35" y="35.70" font-size="7.8" fill="#3a3a3a" stroke="#3a3a3a" stroke-width="0.22" textLength="37.30" lengthAdjust="spacingAndGlyphs">Animations</text>
<text x="276.85" y="35.70" font-size="7.8" fill="#3a3a3a" stroke="#3a3a3a" stroke-width="0.22" textLength="35.60" lengthAdjust="spacingAndGlyphs">Slide Show</text>
<text x="329.75" y="35.70" font-size="7.8" fill="#3a3a3a" stroke="#3a3a3a" stroke-width="0.22" textLength="23.00" lengthAdjust="spacingAndGlyphs">Review</text>
<text x="370.55" y="35.70" font-size="7.8" fill="#3a3a3a" stroke="#3a3a3a" stroke-width="0.22" textLength="15.50" lengthAdjust="spacingAndGlyphs">View</text>
<text x="403.50" y="35.90" font-size="7.8" fill="#d6451f" stroke="#d6451f" stroke-width="0.22" textLength="54.65" lengthAdjust="spacingAndGlyphs">Office Timeline+</text>
<text x="630.15" y="34.90" font-size="7.8" fill="#3a3a3a" stroke="#3a3a3a" stroke-width="0.22" textLength="50.50" lengthAdjust="spacingAndGlyphs">Office Timeline</text>
<path d="M684.5,31.4 L687.5,31.4 L686,33.199999999999996 Z" fill="#444"/>
<text x="15.85" y="72.90" font-size="7.3" fill="#3a3a3a" stroke="#3a3a3a" stroke-width="0.22" textLength="15.30" lengthAdjust="spacingAndGlyphs">New</text>
<text x="38.15" y="72.90" font-size="7.3" fill="#3a3a3a" stroke="#3a3a3a" stroke-width="0.22" textLength="22.00" lengthAdjust="spacingAndGlyphs">Import</text>
<text x="67.15" y="72.90" font-size="7.3" fill="#a3a3a3" stroke="#a3a3a3" stroke-width="0.22" textLength="15.50" lengthAdjust="spacingAndGlyphs">Sync</text>
<text x="91.75" y="72.90" font-size="7.3" fill="#3a3a3a" stroke="#3a3a3a" stroke-width="0.22" textLength="17.70" lengthAdjust="spacingAndGlyphs">Share</text>
<text x="115.55" y="72.90" font-size="7.3" fill="#3a3a3a" stroke="#3a3a3a" stroke-width="0.22" textLength="30.00" lengthAdjust="spacingAndGlyphs">Template</text>
<text x="159.75" y="72.90" font-size="7.3" fill="#3a3a3a" stroke="#3a3a3a" stroke-width="0.22" textLength="12.50" lengthAdjust="spacingAndGlyphs">Edit</text>
<text x="158.95" y="83.00" font-size="7.3" fill="#3a3a3a" stroke="#3a3a3a" stroke-width="0.22" textLength="14.10" lengthAdjust="spacingAndGlyphs">data</text>
<text x="180.05" y="72.90" font-size="7.3" fill="#3a3a3a" stroke="#3a3a3a" stroke-width="0.22" textLength="23.00" lengthAdjust="spacingAndGlyphs">Accept</text>
<text x="210.05" y="72.90" font-size="7.3" fill="#3a3a3a" stroke="#3a3a3a" stroke-width="0.22" textLength="15.20" lengthAdjust="spacingAndGlyphs">Style</text>
<text x="210.05" y="83.00" font-size="7.3" fill="#3a3a3a" stroke="#3a3a3a" stroke-width="0.22" textLength="16.00" lengthAdjust="spacingAndGlyphs">Pane</text>
<text x="233.05" y="52.30" font-size="7.3" fill="#3a3a3a" stroke="#3a3a3a" stroke-width="0.22" textLength="56.00" lengthAdjust="spacingAndGlyphs">Timeline Position</text>
<text x="232.75" y="66.30" font-size="7.3" fill="#3a3a3a" stroke="#3a3a3a" stroke-width="0.22" textLength="18.80" lengthAdjust="spacingAndGlyphs">Quick</text>
<text x="244.45" y="80.80" font-size="7.3" fill="#3a3a3a" stroke="#3a3a3a" stroke-width="0.22" textLength="25.50" lengthAdjust="spacingAndGlyphs">Custom</text>
<rect x="254.5" y="56.8" width="43" height="13.7" fill="#fff" stroke="#bdbdbd" stroke-width="1"/>
<rect x="277" y="70.8" width="20.5" height="13.9" fill="#fff" stroke="#bdbdbd" stroke-width="1"/>
<text x="256.95" y="66.30" font-size="7.3" fill="#3a3a3a" stroke="#3a3a3a" stroke-width="0.22" textLength="25.50" lengthAdjust="spacingAndGlyphs">Custom</text>
<text x="278.65" y="80.80" font-size="7.6" fill="#3a3a3a" stroke="#3a3a3a" stroke-width="0.22" textLength="7.30" lengthAdjust="spacingAndGlyphs">61</text>
<path d="M291.79999999999995,62.55 L295.0,62.55 L293.4,64.45 Z" fill="#444"/>
<text x="317.05" y="52.20" font-size="7.3" fill="#3a3a3a" stroke="#3a3a3a" stroke-width="0.22" textLength="25.80" lengthAdjust="spacingAndGlyphs">Settings</text>
<text x="317.05" y="66.00" font-size="7.3" fill="#3a3a3a" stroke="#3a3a3a" stroke-width="0.22" textLength="14.70" lengthAdjust="spacingAndGlyphs">Help</text>
<path d="M334.0,62.5 L337.4,62.5 L335.7,64.5 Z" fill="#444"/>
<path d="M21.7,78.95 L24.900000000000002,78.95 L23.3,80.85000000000001 Z" fill="#444"/>
<path d="M98.9,78.95 L102.1,78.95 L100.5,80.85000000000001 Z" fill="#444"/>
<path d="M128.9,78.95 L132.1,78.95 L130.5,80.85000000000001 Z" fill="#444"/>
<path d="M189.70000000000002,78.95 L192.9,78.95 L191.3,80.85000000000001 Z" fill="#444"/>
<text x="66.25" y="94.60" font-size="7" fill="#555" stroke="#555" stroke-width="0.22" textLength="25.10" lengthAdjust="spacingAndGlyphs">Timeline</text>
<text x="218.95" y="94.60" font-size="7" fill="#555" stroke="#555" stroke-width="0.22" textLength="12.50" lengthAdjust="spacingAndGlyphs">Edit</text>
<text x="314.45" y="94.40" font-size="7" fill="#555" stroke="#555" stroke-width="0.22" textLength="21.60" lengthAdjust="spacingAndGlyphs">Add-In</text>
<rect x="150.0" y="43" width="1" height="52" fill="#e6e6e6"/>
<rect x="300.3" y="43" width="1" height="52" fill="#e6e6e6"/>
<rect x="348.7" y="43" width="1" height="52" fill="#e6e6e6"/>
<path d="M14,13.2 L20.6,11.7 L20.6,21.3 L14,19.8 Z" fill="#d24726"/>
<rect x="20.6" y="13.4" width="3.2" height="6.2" fill="#d24726"/>
<path d="M21.2,15 a1.6,1.6 0 0 1 1.8,1.6 l-1.8,0 Z" fill="#fff"/>
<rect x="21.2" y="17.4" width="2" height="0.7" fill="#f3c0b0"/>
<text x="15.4" y="19.1" font-size="6.6" font-weight="bold" fill="#fff">P</text>
<path d="M33.3,13.1 L40,13.1 L40,20 L33.3,20 Z" fill="#fff" stroke="#5c2d91" stroke-width="1.1"/>
<rect x="33.3" y="16.6" width="6.7" height="3.4" fill="#5c2d91"/>
<rect x="35.4" y="18.2" width="2.6" height="1.8" fill="#fff"/>
<rect x="33.3" y="12.6" width="1.3" height="4" fill="#5c2d91"/>
<rect x="38.7" y="12.6" width="1.3" height="4" fill="#5c2d91"/>
<path d="M53,15.4 L56,15.4 A2.3,2.3 0 0 1 57,19.4 L55.6,19.7" fill="none" stroke="#2467b5" stroke-width="1.5" stroke-linecap="round"/>
<path d="M50.6,15.4 L54.6,12.3 L54.6,18.5 Z" fill="#2467b5"/>
<path d="M63.00000000000001,15.3 L65.80000000000001,15.3 L64.4,16.900000000000002 Z" fill="#444"/>
<path d="M80.9,13.6 A3.6,3.6 0 1 0 82.8,16.4" fill="none" stroke="#9d9d9d" stroke-width="1.4"/>
<path d="M79.6,12.4 L83,12.6 L82.6,15.8 Z" fill="#9d9d9d"/>
<rect x="92.3" y="14.8" width="3" height="0.9" fill="#444"/>
<path d="M92.3,16.75 L95.3,16.75 L93.8,18.450000000000003 Z" fill="#444"/>
<text x="629.6" y="19.7" font-size="8.4" font-weight="bold" fill="#3a3a3a">?</text>
<rect x="645.8" y="14.1" width="7.6" height="5.4" fill="none" stroke="#7a7a7a" stroke-width="0.9"/>
<rect x="645.8" y="13.7" width="7.6" height="1.3" fill="#7a7a7a"/>
<path d="M648.2,17.9 L649.6,16 L651,17.9 Z" fill="#555"/><rect x="649.2" y="17.6" width="0.8" height="1.2" fill="#555"/>
<rect x="665" y="17.2" width="5.2" height="1.3" fill="#3a3a3a"/>
<rect x="682.5" y="14.2" width="5.8" height="5" fill="none" stroke="#3a3a3a" stroke-width="0.9"/><rect x="682" y="13.6" width="6.8" height="1.5" fill="#3a3a3a"/>
<path d="M700.8,14.1 L706.5,19.6 M706.5,14.1 L700.8,19.6" stroke="#2a2a2a" stroke-width="1.25" fill="none"/>
<rect x="693.8" y="27" width="3.6" height="1.7" fill="#1f62b8"/>
<rect x="696.6" y="29.5" width="4.4" height="1.6" fill="#e0451f"/>
<rect x="700.6" y="31.9" width="3.6" height="1.6" fill="#2ea04a"/>
<rect x="693.8" y="35.4" width="10.8" height="1.7" fill="#4a4a4a"/>
<path d="M694.2,28.5 L694.2,34.8 M697.4,31 L697.4,34.8 M701,33.3 L701,34.8" stroke="#dcdcdc" stroke-width="0.6"/>
<path d="M701.2,93.6 L703.6,91.4 L706,93.6" fill="none" stroke="#3a3a3a" stroke-width="1.2"/>
<rect x="14.9" y="46.1" width="6.7" height="1.8" fill="#1f62b8"/>
<rect x="18.6" y="49.1" width="9.3" height="1.8" fill="#e0451f"/>
<rect x="27.2" y="52.1" width="5.3" height="1.8" fill="#2ea04a"/>
<path d="M15.2,48 L15.2,56.4 M18.9,51 L18.9,56.4 M21.8,51 L21.8,56.4 M27.6,54 L27.6,56.4" stroke="#dfe3ea" stroke-width="0.7"/>
<rect x="14.9" y="56.6" width="17.3" height="3.8" fill="#585858"/><rect x="14.9" y="56.6" width="17.3" height="1.7" fill="#777"/>
<path d="M28.4,57 L28.4,63 M25.4,60 L31.4,60" stroke="#fff" stroke-width="2.8"/>
<path d="M28.4,57.6 L28.4,62.4 M26,60 L30.8,60" stroke="#2ea04a" stroke-width="1.5"/>
<path d="M45.6,51.9 L42.8,51.9 L42.8,60.5 L55.2,60.5 L55.2,51.9 L52.3,51.9" fill="none" stroke="#4a4a4a" stroke-width="1.25"/>
<path d="M48.9,47.2 L48.9,55" stroke="#2ea04a" stroke-width="1.4"/>
<path d="M45.9,54 L51.9,54 L48.9,57.3 Z" fill="#2ea04a"/>
<path d="M69.2,56.2 A5.6,5.6 0 0 1 79.3,50.6" fill="none" stroke="#9e9e9e" stroke-width="1.7"/>
<path d="M80.2,52.4 A5.6,5.6 0 0 1 70.2,58" fill="none" stroke="#9e9e9e" stroke-width="1.7"/>
<path d="M77.6,53.4 L82.9,53.4 L80.3,56.8 Z" fill="#9e9e9e"/>
<path d="M66.4,55 L71.7,55 L69,51.6 Z" fill="#9e9e9e"/>
<path d="M93,58.7 C94.5,54 97.5,51.6 101.4,51.5 L101.4,49.1 L107.3,53.3 L101.4,57.6 L101.4,55 C98,54.8 95.3,56 93,58.7 Z" fill="#555"/>
<rect x="129" y="48" width="8.8" height="5.8" fill="#fff" stroke="#2b9a47" stroke-width="2"/>
<rect x="124.4" y="49.7" width="12" height="8.8" fill="#fff"/>
<rect x="126" y="51.3" width="8.8" height="5.5" fill="#fff" stroke="#f3b24a" stroke-width="2"/>
<rect x="121.4" y="52.7" width="11.8" height="9" fill="#fff"/>
<rect x="122" y="53.3" width="10.5" height="7.9" fill="#e0431f"/>
<rect x="123.6" y="55" width="7.3" height="4.6" fill="#e8694a"/>
<rect x="158.6" y="48.8" width="15.2" height="12.4" fill="#fff" stroke="#6a6a6a" stroke-width="0.9"/>
<rect x="158.2" y="48.4" width="16" height="3.2" fill="#3a3a3a"/>
<path d="M158.6,54.8 L173.8,54.8 M158.6,58 L173.8,58 M163.6,51.6 L163.6,61.2 M168.7,51.6 L168.7,61.2" stroke="#8a8a8a" stroke-width="0.8"/>
<path d="M184.6,54.4 L189,59.4 L199.4,48.3" fill="none" stroke="#1f9a3f" stroke-width="1.9"/>
<rect x="209.8" y="48.6" width="16" height="12" fill="#fff" stroke="#8a8a8a" stroke-width="0.9"/>
<rect x="209.3" y="48" width="17" height="2.9" fill="#e0431f"/>
<path d="M220.3,50.9 L220.3,60.6" stroke="#8a8a8a" stroke-width="0.9"/>
<path d="M214.9,55.8 L217.6,53.1" stroke="#3a3a3a" stroke-width="1.3" stroke-linecap="round"/>
<path d="M212.6,58.2 L214.6,56.1" stroke="#e0431f" stroke-width="1.5" stroke-linecap="round"/>
<rect x="222" y="52.4" width="3" height="1.1" fill="#e0431f"/>
<rect x="222.3" y="55" width="2.4" height="3.4" fill="#b5b5b5"/>
<polygon points="314.30,49.10 313.06,50.32 313.07,52.07 311.32,52.06 310.10,53.30 308.88,52.06 307.13,52.07 307.14,50.32 305.90,49.10 307.14,47.88 307.13,46.13 308.88,46.14 310.10,44.90 311.32,46.14 313.07,46.13 313.06,47.88" fill="#333"/>
<circle cx="310.1" cy="49.1" r="2.45" fill="#fff"/>
<rect x="306" y="58.4" width="7.6" height="9.8" fill="#f2a41f"/>
<rect x="306" y="58.4" width="1.3" height="9.8" fill="#f7c158"/>
<text x="308.2" y="66.4" font-size="7.5" font-weight="bold" fill="#fff">?</text>
<path d="M64.6,432.6 L68.3,432.6 L68.3,439.6 L64.6,439.6 Z M68.3,432.6 L72.2,432.6 L72.2,436" fill="none" stroke="#fff" stroke-width="0.9"/>
<path d="M69.6,437.6 L70.8,439.3 L72.8,436.4" fill="none" stroke="#fff" stroke-width="0.9"/>
<rect x="388.2" y="435.8" width="6.2" height="0.8" fill="#fff" opacity="0.85"/><rect x="388.2" y="437.7" width="6.2" height="0.8" fill="#fff" opacity="0.85"/><rect x="388.2" y="439.6" width="6.2" height="0.8" fill="#fff" opacity="0.85"/>
<path d="M391.3,432.4 L392.8,434.8 L389.8,434.8 Z" fill="#fff" opacity="0.9"/>
<path d="M432,433 L439.4,433 L439.4,438 L436,438 L434.4,440.1 L434.4,438 L432,438 Z" fill="#fff"/>
<rect x="433.4" y="434.8" width="4.6" height="0.8" fill="#d24726" opacity="0.6"/>
<rect x="498.2" y="432.3" width="9" height="7.6" fill="#fff"/>
<rect x="501.6" y="433.8" width="4.2" height="3.2" fill="#b83b1e"/>
<rect x="502.6" y="434.7" width="2.2" height="1.4" fill="#fff" opacity="0.85"/>
<rect x="521.8" y="432.3" width="3.8" height="3.4" fill="#fff"/>
<rect x="521.8" y="436.8" width="3.8" height="3.4" fill="#fff"/>
<rect x="527" y="432.3" width="3.8" height="3.4" fill="#fff"/>
<rect x="527" y="436.8" width="3.8" height="3.4" fill="#fff"/>
<path d="M544.9,433 L549,433.8 L549,440 L544.9,439.2 Z" fill="#fff" opacity="0.75"/>
<path d="M553.5,433 L549.5,433.8 L549.5,440 L553.5,439.2 Z" fill="#fff" opacity="0.75"/>
<path d="M545.8,434.6 L548.2,435 M545.8,436.2 L548.2,436.6 M545.8,437.8 L548.2,438.2 M552.6,434.6 L550.3,435 M552.6,436.2 L550.3,436.6 M552.6,437.8 L550.3,438.2" stroke="#d24726" stroke-width="0.6"/>
<rect x="568" y="432.5" width="8.7" height="1.2" fill="#fff"/>
<path d="M569,433.7 L575.7,433.7 L575.7,437.6 L569,437.6 Z" fill="none" stroke="#fff" stroke-width="1"/>
<path d="M572.35,437.6 L572.35,440 M570.3,440.3 L574.4,440.3" stroke="#fff" stroke-width="1"/>
<rect x="587.6" y="436.3" width="4" height="1.1" fill="#fff"/>
<rect x="593.8" y="436.5" width="61.2" height="0.8" fill="#fff" opacity="0.75"/>
<rect x="614.3" y="432.2" width="2.4" height="8.4" fill="#fff"/>
<rect x="624.5" y="435.3" width="1" height="3.2" fill="#fff"/>
<path d="M657.6,436.85 L663,436.85 M660.3,434.1 L660.3,439.6" stroke="#fff" stroke-width="1.2"/>
<rect x="693.5" y="433" width="8.6" height="7.8" fill="none" stroke="#fff" stroke-width="1"/>
<path d="M695,434.5 L697,436.4 M700.6,434.5 L698.6,436.4 M695,439.3 L697,437.4 M700.6,439.3 L698.6,437.4" stroke="#fff" stroke-width="0.9"/>
<path d="M694.8,434.3 l1.8,0 l-1.8,1.8 Z M700.8,434.3 l-1.8,0 l1.8,1.8 Z M694.8,439.5 l1.8,0 l-1.8,-1.8 Z M700.8,439.5 l-1.8,0 l1.8,-1.8 Z" fill="#fff"/>
<text x="12.65" y="439.20" font-size="6.6" fill="#fff" stroke="#fff" stroke-width="0.22" font-weight="bold" textLength="38.60" lengthAdjust="spacingAndGlyphs">SLIDE 1 OF 1</text>
<text x="397.55" y="439.20" font-size="6.6" fill="#fff" stroke="#fff" stroke-width="0.22" font-weight="bold" textLength="21.60" lengthAdjust="spacingAndGlyphs">NOTES</text>
<text x="441.75" y="439.20" font-size="6.6" fill="#fff" stroke="#fff" stroke-width="0.22" font-weight="bold" textLength="38.20" lengthAdjust="spacingAndGlyphs">COMMENTS</text>
<text x="671.50" y="439.20" font-size="6.6" fill="#fff" stroke="#fff" stroke-width="0.22" font-weight="bold" textLength="13.75" lengthAdjust="spacingAndGlyphs">70%</text>
<text x="14.6" y="119.9" font-size="9.3" font-weight="bold" fill="#1e1e1e">1</text>
<text x="13.6" y="184.2" font-size="9.3" font-weight="bold" fill="#1e1e1e">2</text>
<text x="13.6" y="247.7" font-size="9.3" font-weight="bold" fill="#1e1e1e">3</text>
<text x="13.4" y="311.4" font-size="9.3" font-weight="bold" fill="#1e1e1e">4</text>
<text x="13.6" y="375.1" font-size="9.3" font-weight="bold" fill="#1e1e1e">5</text>
</svg>
</body>
</html>
